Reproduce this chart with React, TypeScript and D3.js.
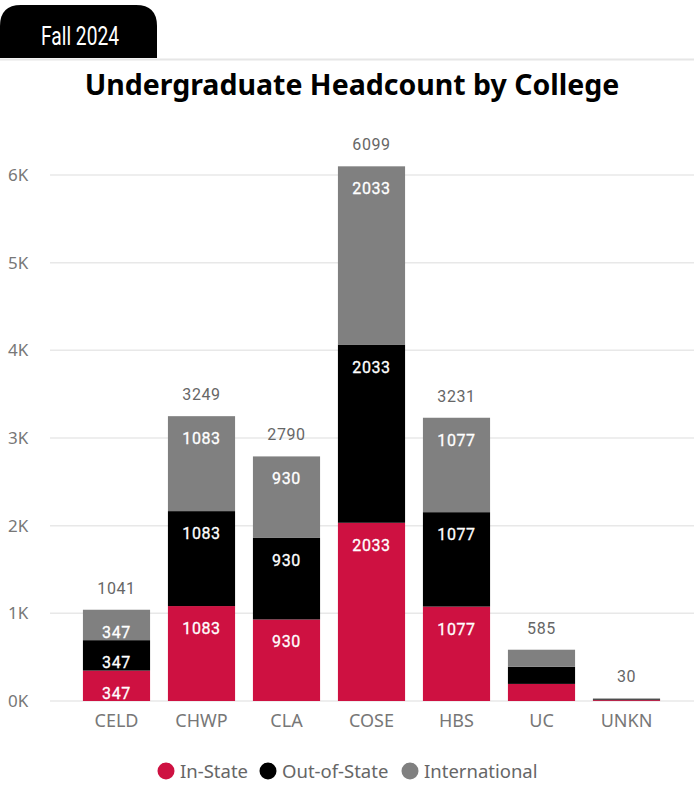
import React from "react";
import * as d3 from "d3";

const categories = ["CELD", "CHWP", "CLA", "COSE", "HBS", "UC", "UNKN"];
const inState = [347, 1083, 930, 2033, 1077, 195, 10];
const outOfState = [347, 1083, 930, 2033, 1077, 195, 10];
const international = [347, 1083, 930, 2033, 1077, 195, 10];
const totals = [1041, 3249, 2790, 6099, 3231, 585, 30];
const seriesNames = ["In-State", "Out-of-State", "International"];
const seriesColors = ["#CE1141", "#000000", "#808080"];
const yTicks = [0, 1000, 2000, 3000, 4000, 5000, 6000];
const yTickLabels = ["0K", "1K", "2K", "3K", "4K", "5K", "6K"];

const W = 694;
const H = 799;

export default function App() {
  const x = d3.scaleBand<string>().domain(categories).range([74, 669]).paddingInner(0.21).paddingOuter(0.105);
  const y = d3.scaleLinear().domain([0, 6000]).range([701, 175]);

  const rows = categories.map((c, i) => ({
    cat: c,
    "In-State": inState[i],
    "Out-of-State": outOfState[i],
    International: international[i],
  }));
  const stacked = d3.stack<any>().keys(seriesNames)(rows);

  const labelFont = "Roboto, 'DejaVu Sans', sans-serif";
  const uiFont = "'Noto Sans', 'Open Sans', sans-serif";

  const legendItems = [
    { name: "In-State", cx: 166, tx: 180 },
    { name: "Out-of-State", cx: 268, tx: 282 },
    { name: "International", cx: 410, tx: 424 },
  ];

  return (
    <svg width={W} height={H} style={{ position: "absolute", left: 0, top: 0, background: "#fff" }}>
      {/* tab */}
      <path d="M0,58 L0,26 Q0,5 21,5 L136,5 Q157,5 157,26 L157,58 Z" fill="#000" />
      <text x={41} y={45} fill="#fff" fontFamily={labelFont} fontSize={25} textLength={78} lengthAdjust="spacingAndGlyphs">Fall 2024</text>
      <line x1={0} x2={W} y1={59.5} y2={59.5} stroke="#e6e6e6" strokeWidth={2} />
      {/* title */}
      <text x={352} y={95} textAnchor="middle" fontFamily={uiFont} fontWeight="bold" fontSize={28.5} fill="#000">
        Undergraduate Headcount by College
      </text>
      {/* grid */}
      {yTicks.map((t, i) => (
        <g key={t}>
          <line x1={50} x2={W} y1={y(t)} y2={y(t)} stroke="#e8e8e8" strokeWidth={1.5} />
          <text x={8} y={y(t) + 6} fill="#777" fontFamily={uiFont} fontSize={17}>{yTickLabels[i]}</text>
        </g>
      ))}
      {/* bars */}
      {stacked.map((s, si) => (
        <g key={s.key} fill={seriesColors[si]}>
          {s.map((d: any, i: number) => (
            <rect key={i} x={x(categories[i])} width={x.bandwidth()} y={y(d[1])} height={y(d[0]) - y(d[1])} />
          ))}
        </g>
      ))}
      {/* segment labels (inside end) */}
      {stacked.map((s) =>
        s.map((d: any, i: number) => {
          const h = y(d[0]) - y(d[1]);
          if (h < 22) return null;
          const v = d[1] - d[0];
          return (
            <text key={s.key + i} x={(x(categories[i]) as number) + x.bandwidth() / 2} y={y(d[1]) + 28}
              textAnchor="middle" fill="#fff" fontFamily={labelFont} fontSize={16} letterSpacing={0.6}
              stroke="#fff" strokeWidth={0.3}>
              {v}
            </text>
          );
        })
      )}
      {/* totals */}
      {categories.map((c, i) => (
        <text key={c} x={(x(c) as number) + x.bandwidth() / 2} y={y(totals[i]) - 16} textAnchor="middle"
          fill="#666" fontFamily={labelFont} fontSize={16} letterSpacing={0.6}>
          {totals[i]}
        </text>
      ))}
      {/* x labels */}
      {categories.map((c) => (
        <text key={c} x={(x(c) as number) + x.bandwidth() / 2} y={727} textAnchor="middle" fill="#777"
          fontFamily={uiFont} fontSize={18}>
          {c}
        </text>
      ))}
      {/* legend */}
      {legendItems.map((l, i) => (
        <g key={l.name}>
          <circle cx={l.cx} cy={771} r={8.5} fill={seriesColors[i]} />
          <text x={l.tx} y={777.5} fill="#666" fontFamily={uiFont} fontSize={18.5}>{l.name}</text>
        </g>
      ))}
    </svg>
  );
}
